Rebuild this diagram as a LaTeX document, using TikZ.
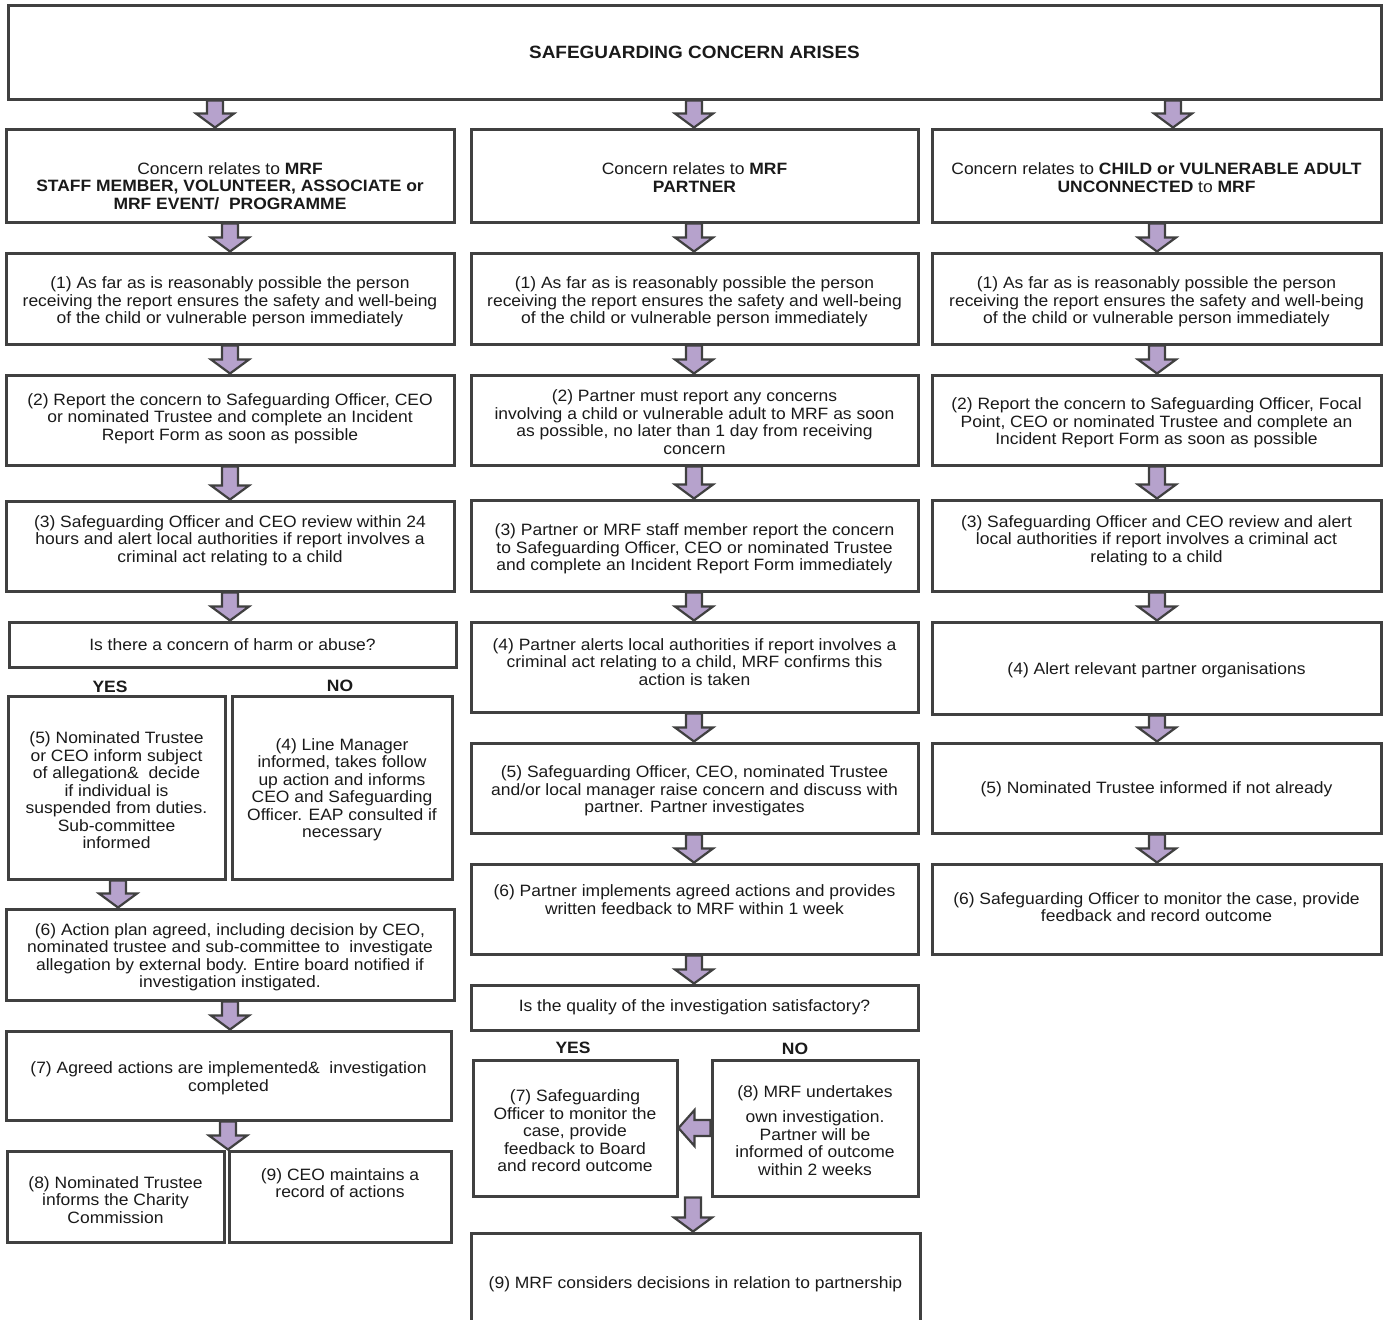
\documentclass[tikz,border=0pt]{standalone}
\usepackage{fontspec}
\setmainfont{Liberation Sans}[FakeStretch=1.065]
\usetikzlibrary{calc}
\definecolor{bord}{HTML}{404040}
\definecolor{arrfill}{RGB}{182,162,204}
\definecolor{ink}{HTML}{1A1A1A}
\tikzset{
  box/.style={draw=bord, line width=1.5pt, fill=white, inner sep=0pt, rectangle},
  txt/.style={text=ink, align=center, inner sep=0pt, font=\fontsize{8.2pt}{8.75pt}\selectfont},
  lbl/.style={text=ink, inner sep=0pt, font=\fontsize{8.2pt}{8.75pt}\selectfont\bfseries},
  ttl/.style={text=ink, inner sep=0pt, font=\fontsize{8.9pt}{10pt}\selectfont\bfseries},
  arr/.style={draw=bord, line width=1.1pt, fill=arrfill, line join=miter},
}
% box: name, x1, y1, x2, y2 (pixels)
\newcommand{\bx}[5]{\node[box, minimum width={(#4-#2)*0.5pt}, minimum height={(#5-#3)*0.5pt}] (#1) at ({(#2+#4)/2},{(#3+#5)/2}) {};}
% text: box name, downward offset (px), text
\newcommand{\tx}[3]{\node[txt] at ([yshift={-(#2)*0.5pt}]#1.center) {#3};}
% down arrow: upper anchor, lower anchor, x (px)
\newcommand{\dnarrow}[3]{\path[arr] let \p1=(#1), \p2=(#2) in
  ({#3*0.5pt-4pt},{\y1}) -- ({#3*0.5pt+4pt},{\y1}) -- ({#3*0.5pt+4pt},{\y2+7pt}) --
  ({#3*0.5pt+9.5pt},{\y2+7pt}) -- ({#3*0.5pt},{\y2}) -- ({#3*0.5pt-9.5pt},{\y2+7pt}) --
  ({#3*0.5pt-4pt},{\y2+7pt}) -- cycle;}
% left arrow: tail anchor, tip anchor, y (px)
\newcommand{\lfarrow}[3]{\path[arr] let \p1=(#1), \p2=(#2) in
  ({\x1},{-#3*0.5pt+4pt}) -- ({\x2+8pt},{-#3*0.5pt+4pt}) -- ({\x2+8pt},{-#3*0.5pt+9pt}) --
  ({\x2},{-#3*0.5pt}) -- ({\x2+8pt},{-#3*0.5pt-9pt}) -- ({\x2+8pt},{-#3*0.5pt-4pt}) --
  ({\x1},{-#3*0.5pt-4pt}) -- cycle;}
\begin{document}
\begin{tikzpicture}[x=0.5pt,y=-0.5pt]
\useasboundingbox (0,0) rectangle (1385,1319);
\clip (0,0) rectangle (1385,1319);
\fill[white] (0,0) rectangle (1385,1319);
% ---------- boxes ----------
\bx{top}{8}{5}{1381}{99}
% column 1
\bx{A1}{6}{129}{454}{222}
\bx{B1}{6}{253}{454}{344}
\bx{C1}{6}{375}{454}{465}
\bx{D1}{6}{501}{454}{591}
\bx{Q1}{9}{622}{456}{667}
\bx{E1}{8}{696}{225}{879}
\bx{F1}{232}{696}{452}{879}
\bx{G1}{6}{909}{454}{1000}
\bx{H1}{6}{1031}{451}{1120}
\bx{I1}{7}{1151}{224}{1242}
\bx{J1}{229}{1151}{451}{1242}
% column 2
\bx{A2}{471}{129}{918}{222}
\bx{B2}{471}{253}{918}{344}
\bx{C2}{471}{375}{918}{465}
\bx{D2}{471}{500}{918}{591}
\bx{E2}{471}{622}{918}{712}
\bx{F2}{471}{743}{918}{833}
\bx{G2}{471}{864}{918}{954}
\bx{Q2}{471}{985}{918}{1030}
\bx{H2}{473}{1060}{677}{1196}
\bx{I2}{712}{1060}{918}{1196}
\bx{J2}{471}{1233}{920}{1335}
% column 3
\bx{A3}{932}{129}{1381}{222}
\bx{B3}{932}{253}{1381}{344}
\bx{C3}{932}{375}{1381}{465}
\bx{D3}{932}{500}{1381}{591}
\bx{E3}{932}{622}{1381}{714}
\bx{F3}{932}{743}{1381}{833}
\bx{G3}{932}{864}{1381}{954}
% ---------- texts ----------
\node[ttl] at (top.center) {SAFEGUARDING CONCERN ARISES};
\tx{A1}{10.5}{Concern relates to \textbf{MRF}\\\textbf{STAFF MEMBER, VOLUNTEER, ASSOCIATE or}\\\textbf{MRF EVENT/~~PROGRAMME}}
\tx{A2}{2}{Concern relates to \textbf{MRF}\\\textbf{PARTNER}}
\tx{A3}{2}{Concern relates to \textbf{CHILD or VULNERABLE ADULT}\\\textbf{UNCONNECTED} to \textbf{MRF}}
\tx{B1}{3.5}{(1) As far as is reasonably possible the person\\receiving the report ensures the safety and well-being\\of the child or vulnerable person immediately}
\tx{B2}{3.5}{(1) As far as is reasonably possible the person\\receiving the report ensures the safety and well-being\\of the child or vulnerable person immediately}
\tx{B3}{3.5}{(1) As far as is reasonably possible the person\\receiving the report ensures the safety and well-being\\of the child or vulnerable person immediately}
\tx{C1}{-1.5}{(2) Report the concern to Safeguarding Officer, CEO\\or nominated Trustee and complete an Incident\\Report Form as soon as possible}
\tx{C2}{2}{(2) Partner must report any concerns\\involving a child or vulnerable adult to MRF as soon\\as possible, no later than 1 day from receiving\\concern}
\tx{C3}{3}{(2) Report the concern to Safeguarding Officer, Focal\\Point, CEO or nominated Trustee and complete an\\Incident Report Form as soon as possible}
\tx{D1}{-5.5}{(3) Safeguarding Officer and CEO review within 24\\hours and alert local authorities if report involves a\\criminal act relating to a child}
\tx{D2}{3.5}{(3) Partner or MRF staff member report the concern\\to Safeguarding Officer, CEO or nominated Trustee\\and complete an Incident Report Form immediately}
\tx{D3}{-5}{(3) Safeguarding Officer and CEO review and alert\\local authorities if report involves a criminal act\\relating to a child}
\tx{Q1}{0}{Is there a concern of harm or abuse?}
\tx{E2}{-5}{(4) Partner alerts local authorities if report involves a\\criminal act relating to a child, MRF confirms this\\action is taken}
\tx{E3}{2}{(4) Alert relevant partner organisations}
\tx{E1}{3}{(5) Nominated Trustee\\or CEO inform subject\\of allegation\&~~decide\\if individual is\\suspended from duties.\\Sub-committee\\informed}
\tx{F1}{2}{(4) Line Manager\\informed, takes follow\\up action and informs\\CEO and Safeguarding\\Officer. EAP consulted if\\necessary}
\tx{F2}{3}{(5) Safeguarding Officer, CEO, nominated Trustee\\and/or local manager raise concern and discuss with\\partner. Partner investigates}
\tx{F3}{1}{(5) Nominated Trustee informed if not already}
\tx{G1}{2.5}{(6) Action plan agreed, including decision by CEO,\\nominated trustee and sub-committee to~~investigate\\allegation by external body. Entire board notified if\\investigation instigated.}
\tx{G2}{-9.5}{(6) Partner implements agreed actions and provides\\written feedback to MRF within 1 week}
\tx{G3}{-2}{(6) Safeguarding Officer to monitor the case, provide\\feedback and record outcome}
\tx{Q2}{0}{Is the quality of the investigation satisfactory?}
\tx{H1}{2.5}{(7) Agreed actions are implemented\&~~investigation\\completed}
\tx{H2}{3}{(7) Safeguarding\\Officer to monitor the\\case, provide\\feedback to Board\\and record outcome}
\tx{I2}{2.5}{(8) MRF undertakes\\[4pt]own investigation.\\Partner will be\\informed of outcome\\within 2 weeks}
\tx{I1}{3.5}{(8) Nominated Trustee\\informs the Charity\\Commission}
\tx{J1}{-13.5}{(9) CEO maintains a\\record of actions}
\tx{J2}{0}{(9) MRF considers decisions in relation to partnership}
% YES / NO labels
\node[lbl] (yes1) at (110,687) {YES};
\node[lbl] (no1) at (340,686) {NO};
\node[lbl] (yes2) at (573,1048) {YES};
\node[lbl] (no2) at (795,1049) {NO};
% ---------- arrows ----------
\dnarrow{top.south}{A1.north}{215}
\dnarrow{top.south}{A2.north}{694}
\dnarrow{top.south}{A3.north}{1173}
\dnarrow{A1.south}{B1.north}{230}
\dnarrow{B1.south}{C1.north}{230}
\dnarrow{C1.south}{D1.north}{230}
\dnarrow{D1.south}{Q1.north}{230}
\dnarrow{E1.south}{G1.north}{118}
\dnarrow{G1.south}{H1.north}{230}
\dnarrow{H1.south}{I1.north}{228}
\dnarrow{A2.south}{B2.north}{694}
\dnarrow{B2.south}{C2.north}{694}
\dnarrow{C2.south}{D2.north}{694}
\dnarrow{D2.south}{E2.north}{694}
\dnarrow{E2.south}{F2.north}{694}
\dnarrow{F2.south}{G2.north}{694}
\dnarrow{G2.south}{Q2.north}{694}
\dnarrow{H2.south}{J2.north}{693}
\lfarrow{I2.west}{H2.east}{1128}
\dnarrow{A3.south}{B3.north}{1157}
\dnarrow{B3.south}{C3.north}{1157}
\dnarrow{C3.south}{D3.north}{1157}
\dnarrow{D3.south}{E3.north}{1157}
\dnarrow{E3.south}{F3.north}{1157}
\dnarrow{F3.south}{G3.north}{1157}
\end{tikzpicture}
\end{document}
